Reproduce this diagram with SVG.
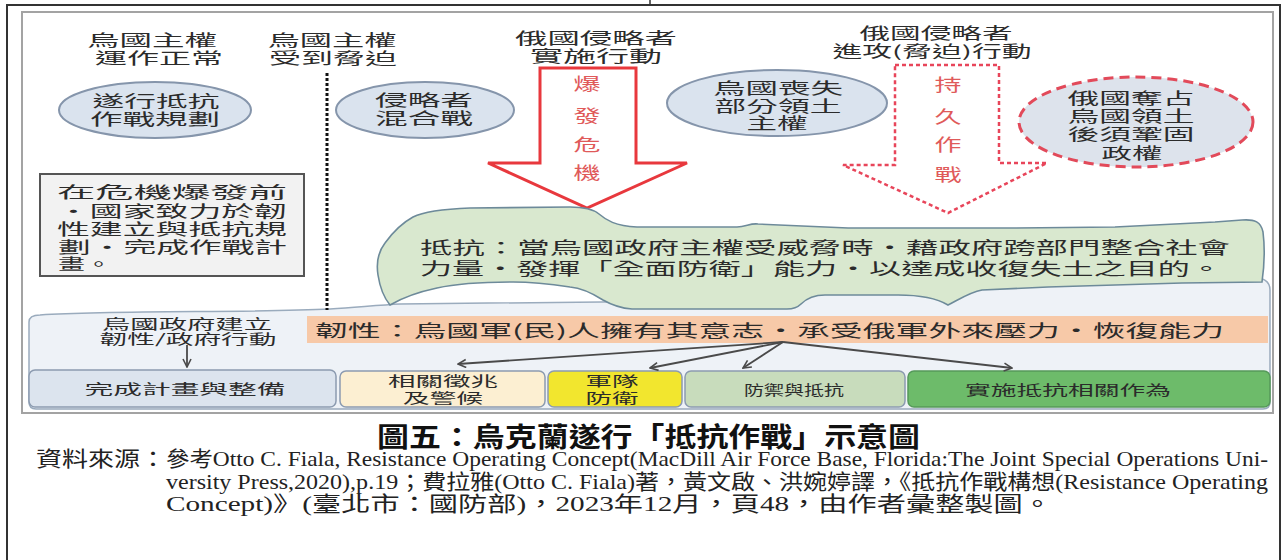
<svg xmlns="http://www.w3.org/2000/svg" width="1286" height="560" viewBox="0 0 1286 560">
<style>
.t{font-family:"Noto Sans CJK TC","Noto Sans CJK SC",sans-serif;fill:#2b2b2b;dominant-baseline:central;text-anchor:middle;font-size:15.5px}
.tl{font-size:17px}
.ts{font-size:13.5px}
.tr{fill:#e05a5a;font-size:17px}
.ta{text-anchor:start}
.cap{font-family:"Liberation Serif","Noto Sans CJK TC",serif;font-size:21px;fill:#222;dominant-baseline:central}
.title{font-family:"Liberation Serif","Noto Sans CJK TC",serif;font-weight:700;font-size:27px;fill:#111;dominant-baseline:central}
.ell{fill:#dae3ee;stroke:#8595ab;stroke-width:2}
.box{stroke:#8c9bb0;stroke-width:1.5}
.conn{stroke:#4a4a4a;stroke-width:1.8;fill:none}
</style>
<defs>
<marker id="ah" viewBox="0 0 10 10" refX="9" refY="5" markerWidth="10" markerHeight="10" markerUnits="userSpaceOnUse" orient="auto">
<path d="M1,1 L9,5 L1,9" fill="none" stroke="#4a4a4a" stroke-width="1.6"/>
</marker>
</defs>
<rect width="1286" height="560" fill="#fff"/>
<!-- outer frame -->
<path d="M7,560 L7,5 L1280,5 L1280,560" fill="none" stroke="#333" stroke-width="2"/>
<line x1="650" y1="0" x2="650" y2="5" stroke="#333" stroke-width="1.5"/>
<!-- inner picture border -->
<rect x="22" y="12" width="1251" height="401" fill="#fff" stroke="#a3a3a3" stroke-width="2"/>

<!-- bottom band -->
<g id="band">
<path d="M40,315 C120,310 250,313 330,309 C360,307 380,305 400,304 L790,300 L830,284 L1250,277 Q1270,277 1270,290 L1270,402 Q1270,409 1263,409 L36,409 Q29,409 29,402 L29,322 Q29,315 40,315 Z" fill="#eef2f7" stroke="#9aabbd" stroke-width="1.5"/>
<text class="t ts" x="187" y="323" textLength="170" lengthAdjust="spacingAndGlyphs">烏國政府建立</text>
<text class="t ts" x="188" y="338" textLength="177" lengthAdjust="spacingAndGlyphs">韌性/政府行動</text>
</g>

<!-- dotted divider -->
<line x1="327" y1="73" x2="327" y2="310" stroke="#111" stroke-width="3" stroke-dasharray="3 2"/>

<!-- top labels -->
<g id="lbl-normal">
<text class="t" x="152" y="39" textLength="130" lengthAdjust="spacingAndGlyphs">烏國主權</text>
<text class="t" x="159" y="57" textLength="128" lengthAdjust="spacingAndGlyphs">運作正常</text>
</g>
<g id="lbl-coerced">
<text class="t" x="332" y="39" textLength="129" lengthAdjust="spacingAndGlyphs">烏國主權</text>
<text class="t" x="333" y="57" textLength="128" lengthAdjust="spacingAndGlyphs">受到脅迫</text>
</g>
<g id="lbl-action">
<text class="t" x="596" y="37" textLength="162" lengthAdjust="spacingAndGlyphs">俄國侵略者</text>
<text class="t" x="596" y="55" textLength="132" lengthAdjust="spacingAndGlyphs">實施行動</text>
</g>
<g id="lbl-attack">
<text class="t" x="936" y="32" textLength="153" lengthAdjust="spacingAndGlyphs">俄國侵略者</text>
<text class="t" x="932" y="50" textLength="199" lengthAdjust="spacingAndGlyphs">進攻(脅迫)行動</text>
</g>

<!-- ellipses -->
<g id="e-plan">
<ellipse class="ell" cx="155" cy="110" rx="96" ry="28"/>
<text class="t" x="156" y="100" textLength="127" lengthAdjust="spacingAndGlyphs">遂行抵抗</text>
<text class="t" x="155" y="118" textLength="130" lengthAdjust="spacingAndGlyphs">作戰規劃</text>
</g>
<g id="e-hybrid">
<ellipse class="ell" cx="425" cy="110" rx="89" ry="28"/>
<text class="t" x="424" y="99" textLength="98" lengthAdjust="spacingAndGlyphs">侵略者</text>
<text class="t" x="424" y="117" textLength="98" lengthAdjust="spacingAndGlyphs">混合戰</text>
</g>
<g id="e-loss">
<ellipse class="ell" cx="777" cy="103" rx="110" ry="33"/>
<text class="t" x="778" y="87" textLength="130" lengthAdjust="spacingAndGlyphs">烏國喪失</text>
<text class="t" x="778" y="105" textLength="127" lengthAdjust="spacingAndGlyphs">部分領土</text>
<text class="t" x="777" y="122" textLength="61" lengthAdjust="spacingAndGlyphs">主權</text>
</g>
<g id="e-occupy">
<ellipse cx="1136" cy="122" rx="117" ry="45" fill="#dde3ec" stroke="#e24a5a" stroke-width="3" stroke-dasharray="10 6"/>
<text class="t" x="1131" y="97" textLength="127" lengthAdjust="spacingAndGlyphs">俄國奪占</text>
<text class="t" x="1131" y="115" textLength="127" lengthAdjust="spacingAndGlyphs">烏國領土</text>
<text class="t" x="1131" y="133" textLength="127" lengthAdjust="spacingAndGlyphs">後須鞏固</text>
<text class="t" x="1132" y="152" textLength="61" lengthAdjust="spacingAndGlyphs">政權</text>
</g>

<!-- big red arrows -->
<g id="arrow-crisis">
<path d="M540,68 L636,68 L636,163 L687,163 L587,208 L488,163 L540,163 Z" fill="#fff" stroke="#e8383d" stroke-width="3" stroke-linejoin="miter"/>
<text class="t tr" x="587" y="82" textLength="27" lengthAdjust="spacingAndGlyphs">爆</text>
<text class="t tr" x="587" y="114" textLength="27" lengthAdjust="spacingAndGlyphs">發</text>
<text class="t tr" x="587" y="143" textLength="27" lengthAdjust="spacingAndGlyphs">危</text>
<text class="t tr" x="587" y="171" textLength="27" lengthAdjust="spacingAndGlyphs">機</text>
</g>
<g id="arrow-protracted">
<path d="M895,65 L999,65 L999,163 L1047,163 L948,213 L843,165 L895,165 Z" fill="#fff" stroke="#e8455a" stroke-width="2.5" stroke-dasharray="4 3"/>
<text class="t tr" x="948" y="83" textLength="27" lengthAdjust="spacingAndGlyphs">持</text>
<text class="t tr" x="948" y="115" textLength="27" lengthAdjust="spacingAndGlyphs">久</text>
<text class="t tr" x="948" y="143" textLength="27" lengthAdjust="spacingAndGlyphs">作</text>
<text class="t tr" x="948" y="173" textLength="27" lengthAdjust="spacingAndGlyphs">戰</text>
</g>

<!-- pre-crisis box -->
<g id="box-precrisis">
<rect x="40" y="174" width="264" height="102" fill="#f2f2f2" stroke="#555" stroke-width="2"/>
<text class="t ta" x="57" y="191" textLength="230" lengthAdjust="spacingAndGlyphs">在危機爆發前</text>
<text class="t ta" x="57" y="210" textLength="230" lengthAdjust="spacingAndGlyphs">・國家致力於韌</text>
<text class="t ta" x="57" y="228" textLength="230" lengthAdjust="spacingAndGlyphs">性建立與抵抗規</text>
<text class="t ta" x="58" y="246" textLength="229" lengthAdjust="spacingAndGlyphs">劃・完成作戰計</text>
<text class="t ta" x="58" y="263" textLength="54" lengthAdjust="spacingAndGlyphs">畫。</text>
</g>

<!-- resistance cloud -->
<g id="cloud-resistance">
<path d="M413,217 C425,211 445,209 470,208 L570,207 C585,207 593,209 599,214 C606,220 615,226 637,227 L737,227 C746,227 750,223 758,224 L848,228 L1015,228 L1115,227 L1215,222 L1242,220 C1255,219 1261,222 1263,232 C1265,248 1264,268 1262,282 L1182,283 L1048,287 L982,290 C970,292 958,300 948,305 C938,299 920,295 898,295 L825,295 C812,295 806,299 801,304 C797,308 792,309 787,309 L632,309 C618,308 610,304 603,300 C592,293 582,288 570,287 C550,284 530,282 513,282 C480,282 455,284 437,288 C418,292 402,298 390,305 C385,299 380,288 378,275 C376,262 378,252 385,243 C393,232 402,223 413,217 Z" fill="#d9e8cf" stroke="#6d8a9a" stroke-width="1.6"/>
<text class="t tl ta" x="420" y="246" textLength="810" lengthAdjust="spacingAndGlyphs">抵抗：當烏國政府主權受威脅時・藉政府跨部門整合社會</text>
<text class="t tl ta" x="420" y="267" textLength="802" lengthAdjust="spacingAndGlyphs">力量・發揮「全面防衛」能力・以達成收復失土之目的。</text>
</g>

<!-- resilience bar -->
<g id="bar-resilience">
<rect x="307" y="316" width="961" height="27" fill="#f7c9a8"/>
<text class="t tl ta" x="315" y="329" textLength="909" lengthAdjust="spacingAndGlyphs">韌性：烏國軍(民)人擁有其意志・承受俄軍外來壓力・恢復能力</text>
</g>

<!-- bottom boxes -->
<g id="b-prepare">
<rect class="box" x="29" y="370" width="307" height="37" rx="6" fill="#dce4ee"/>
<text class="t ts" x="185" y="388" textLength="201" lengthAdjust="spacingAndGlyphs">完成計畫與整備</text>
</g>
<g id="b-warning">
<rect class="box" x="340" y="371" width="205" height="36" rx="6" fill="#fcefd2"/>
<text class="t ts" x="443" y="380" textLength="110" lengthAdjust="spacingAndGlyphs">相關徵兆</text>
<text class="t ts" x="443" y="397" textLength="80" lengthAdjust="spacingAndGlyphs">及警候</text>
</g>
<g id="b-military">
<rect class="box" x="548" y="371" width="134" height="36" rx="6" fill="#f2e62e"/>
<text class="t ts" x="612" y="380" textLength="53" lengthAdjust="spacingAndGlyphs">軍隊</text>
<text class="t ts" x="612" y="397" textLength="53" lengthAdjust="spacingAndGlyphs">防衛</text>
</g>
<g id="b-defense">
<rect class="box" x="685" y="371" width="220" height="36" rx="6" fill="#c8dcbc"/>
<text class="t ts" x="794" y="389" textLength="100" lengthAdjust="spacingAndGlyphs">防禦與抵抗</text>
</g>
<g id="b-implement">
<rect x="908" y="371" width="362" height="36" rx="6" fill="#6dbb6a" stroke="#55995a" stroke-width="1.5"/>
<text class="t ts" x="1068" y="389" textLength="206" lengthAdjust="spacingAndGlyphs">實施抵抗相關作為</text>
</g>

<!-- connectors -->
<g id="connectors">
<line class="conn" x1="187" y1="345" x2="187" y2="367" marker-end="url(#ah)"/>
<line class="conn" x1="783" y1="342" x2="458" y2="364" marker-end="url(#ah)"/>
<line class="conn" x1="783" y1="342" x2="650" y2="368" marker-end="url(#ah)"/>
<line class="conn" x1="783" y1="342" x2="743" y2="368" marker-end="url(#ah)"/>
<line class="conn" x1="783" y1="342" x2="1012" y2="368" marker-end="url(#ah)"/>
</g>

<!-- caption -->
<text class="title" x="377" y="438" textLength="543" lengthAdjust="spacingAndGlyphs">圖五：烏克蘭遂行「抵抗作戰」示意圖</text>
<text class="cap" x="36" y="459" textLength="130" lengthAdjust="spacingAndGlyphs">資料來源：</text>
<text class="cap" x="166" y="459" textLength="1102" lengthAdjust="spacingAndGlyphs">參考Otto C. Fiala, Resistance Operating Concept(MacDill Air Force Base, Florida:The Joint Special Operations Uni-</text>
<text class="cap" x="166" y="482" textLength="1102" lengthAdjust="spacingAndGlyphs">versity Press,2020),p.19；費拉雅(Otto C. Fiala)著，黃文啟、洪婉婷譯，《抵抗作戰構想(Resistance Operating</text>
<text class="cap" x="166" y="504" textLength="886" lengthAdjust="spacingAndGlyphs">Concept)》(臺北市：國防部)，2023年12月，頁48，由作者彙整製圖。</text>
</svg>
